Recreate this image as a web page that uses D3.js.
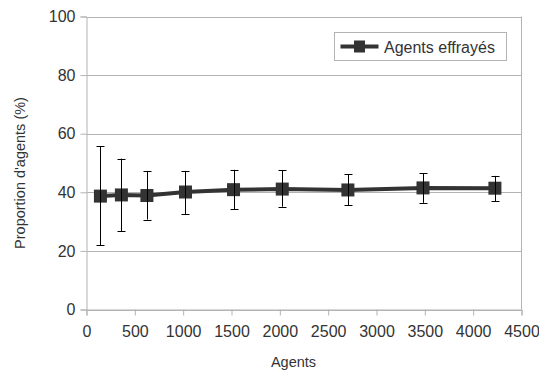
<!DOCTYPE html>
<html>
<head>
<meta charset="utf-8">
<script src="https://cdn.jsdelivr.net/npm/d3@7"></script>
<style>
  html, body { margin: 0; padding: 0; background: #fff; }
  svg { display: block; font-family: "Liberation Sans", Arial, sans-serif; }
</style>
</head>
<body>
<svg id="chart" width="539" height="373"></svg>
<script>
// Number of agents per run
const agents = [144, 361, 625, 1024, 1521, 2025, 2704, 3481, 4225];
// Mean proportion of frightened agents (%)
const meanPct = [38.7, 39.1, 38.9, 40.1, 40.9, 41.1, 40.8, 41.5, 41.4];
// Error bar bounds (%)
const lowPct  = [21.9, 26.8, 30.7, 32.6, 34.3, 35.1, 35.5, 36.4, 37.0];
const highPct = [55.7, 51.5, 47.3, 47.3, 47.7, 47.5, 46.2, 46.5, 45.6];
const xTicks = [0, 500, 1000, 1500, 2000, 2500, 3000, 3500, 4000, 4500];
const yTicks = [0, 20, 40, 60, 80, 100];
const seriesName = "Agents effrayés";

const svg = d3.select("#chart");
const plotL = 86.5, plotR = 521.5, plotT = 16.5, plotB = 309.5;

const x = d3.scaleLinear().domain([0, 4500]).range([plotL, plotR]);
const y = d3.scaleLinear().domain([0, 100]).range([plotB, plotT]);

const grid = "#b3b3b3";
const textCol = "#333";
const tickFont = 16;

// horizontal gridlines
svg.append("g").selectAll("line").data(yTicks).join("line")
  .attr("x1", plotL).attr("x2", plotR)
  .attr("y1", d => Math.round(y(d)) + 0.5).attr("y2", d => Math.round(y(d)) + 0.5)
  .attr("stroke", grid).attr("stroke-width", 1);

// right border
svg.append("line").attr("x1", plotR).attr("x2", plotR).attr("y1", plotT).attr("y2", plotB)
  .attr("stroke", grid);

// y axis
const yAxis = svg.append("g").attr("transform", `translate(${plotL},0)`)
  .call(d3.axisLeft(y).tickValues(yTicks).tickSize(6).tickPadding(5));
yAxis.select(".domain").attr("stroke", grid);
yAxis.selectAll(".tick line").attr("stroke", grid);
yAxis.selectAll(".tick text").attr("fill", textCol).attr("font-size", tickFont)
  .attr("font-family", "Liberation Sans, Arial, sans-serif");

// x axis
const xAxis = svg.append("g").attr("transform", `translate(0,${plotB})`)
  .call(d3.axisBottom(x).tickValues(xTicks).tickSize(6).tickPadding(10).tickFormat(d3.format("d")));
xAxis.select(".domain").attr("stroke", grid);
xAxis.selectAll(".tick line").attr("stroke", grid);
xAxis.selectAll(".tick text").attr("fill", textCol).attr("font-size", tickFont)
  .attr("font-family", "Liberation Sans, Arial, sans-serif");

// axis titles
svg.append("text").attr("x", 293.5).attr("y", 367)
  .attr("text-anchor", "middle").attr("font-size", 14.5).attr("fill", textCol)
  .text("Agents");
svg.append("text")
  .attr("transform", `translate(25,173) rotate(-90)`)
  .attr("text-anchor", "middle").attr("font-size", 14.5).attr("fill", textCol)
  .text("Proportion d'agents (%)");

const pts = agents.map((a, i) => ({ a, m: meanPct[i], lo: lowPct[i], hi: highPct[i] }));
const lineCol = "#333333";

// series line
svg.append("path").datum(pts)
  .attr("fill", "none").attr("stroke", lineCol).attr("stroke-width", 4)
  .attr("d", d3.line().x(d => x(d.a)).y(d => y(d.m)));

// markers
svg.append("g").selectAll("rect").data(pts).join("rect")
  .attr("x", d => x(d.a) - 6.5).attr("y", d => y(d.m) - 6.5)
  .attr("width", 13).attr("height", 13).attr("fill", lineCol);

// error bars
const eb = svg.append("g").attr("stroke", "#000").attr("stroke-width", 1);
pts.forEach(d => {
  const cx = Math.round(x(d.a)) + 0.5;
  eb.append("line").attr("x1", cx).attr("x2", cx).attr("y1", y(d.hi)).attr("y2", y(d.lo));
  eb.append("line").attr("x1", cx - 4).attr("x2", cx + 4).attr("y1", Math.round(y(d.hi)) + 0.5).attr("y2", Math.round(y(d.hi)) + 0.5);
  eb.append("line").attr("x1", cx - 4).attr("x2", cx + 4).attr("y1", Math.round(y(d.lo)) + 0.5).attr("y2", Math.round(y(d.lo)) + 0.5);
});

// legend
const lg = svg.append("g");
lg.append("rect").attr("x", 334.5).attr("y", 32.5).attr("width", 172).attr("height", 28)
  .attr("fill", "#fff").attr("stroke", grid);
lg.append("line").attr("x1", 340.5).attr("x2", 378.5).attr("y1", 46.5).attr("y2", 46.5)
  .attr("stroke", lineCol).attr("stroke-width", 4);
lg.append("rect").attr("x", 354).attr("y", 40.5).attr("width", 11).attr("height", 12).attr("fill", lineCol);
lg.append("text").attr("x", 384).attr("y", 52.5).attr("font-size", 16).attr("fill", textCol)
  .text(seriesName);
</script>
</body>
</html>
